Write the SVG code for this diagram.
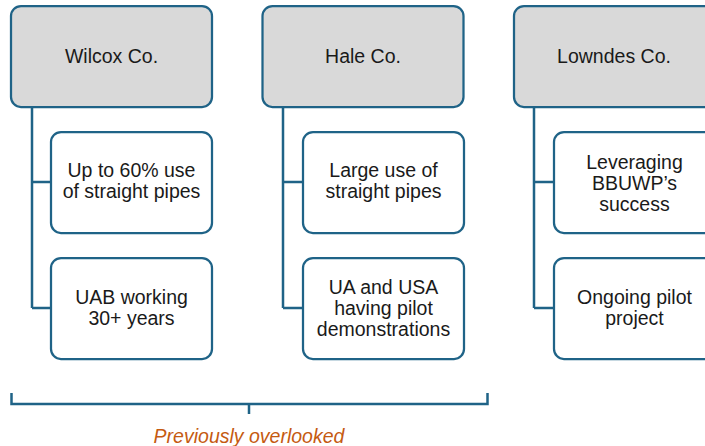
<svg xmlns="http://www.w3.org/2000/svg" width="705" height="446" viewBox="0 0 705 446">
<style>
.head{fill:#D9D9D9;stroke:#1F6387;stroke-width:2.25}
.child{fill:#FFFFFF;stroke:#1F6387;stroke-width:2.25}
.t{font-family:"Liberation Sans",Arial,sans-serif;font-size:19.5px;fill:#1A1A1A;text-anchor:middle}
.conn{fill:none;stroke:#1F6387;stroke-width:2.5}
.note{font-family:"Liberation Sans",Arial,sans-serif;font-size:19.5px;font-style:italic;fill:#C55A11;text-anchor:middle}
</style>
<rect width="705" height="446" fill="#FFFFFF"/>
<g id="connectors">
<path class="conn" d="M32 107 V308 M32 182 H51 M32 308 H51"/>
<path class="conn" d="M283 107 V308 M283 182 H303 M283 308 H303"/>
<path class="conn" d="M534 107 V308 M534 182 H554 M534 308 H554"/>
</g>
<g id="wilcox">
<rect class="head" x="11" y="6" width="201" height="101" rx="10"/>
<text class="t" x="111.5" y="63">Wilcox Co.</text>
</g>
<g id="wilcox-1">
<rect class="child" x="51" y="132" width="161" height="101" rx="10"/>
<text class="t" x="131.5" y="177">Up to 60% use</text>
<text class="t" x="131.5" y="198">of straight pipes</text>
</g>
<g id="wilcox-2">
<rect class="child" x="51" y="258" width="161" height="101" rx="10"/>
<text class="t" x="131.5" y="304">UAB working</text>
<text class="t" x="131.5" y="325">30+ years</text>
</g>
<g id="hale">
<rect class="head" x="262.5" y="6" width="201" height="101" rx="10"/>
<text class="t" x="363" y="63">Hale Co.</text>
</g>
<g id="hale-1">
<rect class="child" x="303" y="132" width="161" height="101" rx="10"/>
<text class="t" x="383.5" y="177">Large use of</text>
<text class="t" x="383.5" y="198">straight pipes</text>
</g>
<g id="hale-2">
<rect class="child" x="303" y="258" width="161" height="101" rx="10"/>
<text class="t" x="383.5" y="294">UA and USA</text>
<text class="t" x="383.5" y="315">having pilot</text>
<text class="t" x="383.5" y="336">demonstrations</text>
</g>
<g id="lowndes">
<rect class="head" x="514" y="6" width="201" height="101" rx="10"/>
<text class="t" x="614" y="63">Lowndes Co.</text>
</g>
<g id="lowndes-1">
<rect class="child" x="554" y="132" width="161" height="101" rx="10"/>
<text class="t" x="634.5" y="169">Leveraging</text>
<text class="t" x="634.5" y="190">BBUWP’s</text>
<text class="t" x="634.5" y="211">success</text>
</g>
<g id="lowndes-2">
<rect class="child" x="554" y="258" width="161" height="101" rx="10"/>
<text class="t" x="634.5" y="304">Ongoing pilot</text>
<text class="t" x="634.5" y="325">project</text>
</g>
<g id="bracket">
<path class="conn" d="M11.5 393 V404 H487.5 V393 M249 404 V414" stroke-width="3"/>
<text class="note" x="249" y="443">Previously overlooked</text>
</g>
</svg>
